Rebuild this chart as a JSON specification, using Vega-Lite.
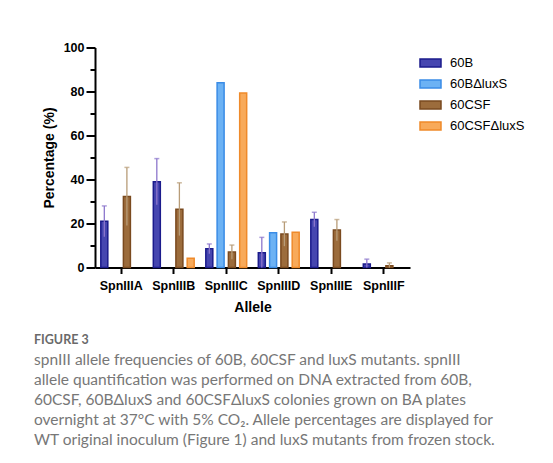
{
  "$schema": "https://vega.github.io/schema/vega-lite/v6.json",
  "width": 315,
  "height": 220,
  "autosize": {"type": "none"},
  "padding": {"left": 95, "top": 47.5, "right": 143, "bottom": 195.5},
  "background": "white",
  "config": {"view": {"stroke": null}},
  "data": {
    "values": [
      {"allele": "SpnIIIA", "group": "60B", "value": 21.0, "err_low": 14.0, "err_high": 28.0},
      {"allele": "SpnIIIA", "group": "60CSF", "value": 32.3, "err_low": 19.1, "err_high": 45.5},
      {"allele": "SpnIIIB", "group": "60B", "value": 39.0, "err_low": 28.5, "err_high": 49.5},
      {"allele": "SpnIIIB", "group": "60CSF", "value": 26.5, "err_low": 14.5, "err_high": 38.5},
      {"allele": "SpnIIIB", "group": "60CSFΔluxS", "value": 4.2},
      {"allele": "SpnIIIC", "group": "60B", "value": 8.5, "err_low": 6.3, "err_high": 10.7},
      {"allele": "SpnIIIC", "group": "60BΔluxS", "value": 84.0},
      {"allele": "SpnIIIC", "group": "60CSF", "value": 7.0, "err_low": 3.8, "err_high": 10.2},
      {"allele": "SpnIIIC", "group": "60CSFΔluxS", "value": 79.3},
      {"allele": "SpnIIID", "group": "60B", "value": 6.7, "err_low": 0.0, "err_high": 13.7},
      {"allele": "SpnIIID", "group": "60BΔluxS", "value": 15.8},
      {"allele": "SpnIIID", "group": "60CSF", "value": 15.2, "err_low": 9.7, "err_high": 20.7},
      {"allele": "SpnIIID", "group": "60CSFΔluxS", "value": 16.0},
      {"allele": "SpnIIIE", "group": "60B", "value": 21.8, "err_low": 18.5, "err_high": 25.1},
      {"allele": "SpnIIIE", "group": "60CSF", "value": 17.0, "err_low": 12.2, "err_high": 21.8},
      {"allele": "SpnIIIF", "group": "60B", "value": 1.6, "err_low": 0.0, "err_high": 3.8},
      {"allele": "SpnIIIF", "group": "60CSF", "value": 0.8, "err_low": 0.0, "err_high": 2.1}
    ]
  },
  "title": {
    "text": "FIGURE 3",
    "subtitle": [
      "spnIII allele frequencies of 60B, 60CSF and luxS mutants. spnIII",
      "allele quantification was performed on DNA extracted from 60B,",
      "60CSF, 60BΔluxS and 60CSFΔluxS colonies grown on BA plates",
      "overnight at 37°C with 5% CO₂. Allele percentages are displayed for",
      "WT original inoculum (Figure 1) and luxS mutants from frozen stock."
    ],
    "orient": "bottom",
    "anchor": "start",
    "frame": "group",
    "dx": -61,
    "offset": 20,
    "font": "Lato",
    "fontSize": 12.5,
    "fontWeight": "bold",
    "color": "#6a6a6a",
    "subtitleFont": "Lato",
    "subtitleFontSize": 15.5,
    "subtitleColor": "#777777",
    "subtitleLineHeight": 20,
    "subtitlePadding": 6
  },
  "encoding": {
    "x": {
      "field": "allele",
      "type": "nominal",
      "sort": ["SpnIIIA", "SpnIIIB", "SpnIIIC", "SpnIIID", "SpnIIIE", "SpnIIIF"],
      "scale": {"paddingInner": 0, "paddingOuter": 0},
      "axis": {
        "title": "Allele",
        "labelAngle": 0,
        "domainColor": "black",
        "domainWidth": 2,
        "tickColor": "black",
        "tickWidth": 2,
        "tickSize": 6,
        "labelPadding": 6,
        "labelFont": "Liberation Sans",
        "labelFontWeight": "bold",
        "labelFontSize": 12.5,
        "labelColor": "black",
        "titleFont": "Liberation Sans",
        "titleFontWeight": "bold",
        "titleFontSize": 14,
        "titleColor": "black",
        "titlePadding": 8
      }
    },
    "xOffset": {
      "field": "group",
      "type": "nominal",
      "scale": {
        "domain": ["60B", "60BΔluxS", "60CSF", "60CSFΔluxS"],
        "paddingInner": 0.38,
        "paddingOuter": 0.515
      }
    }
  },
  "layer": [
    {
      "mark": {"type": "bar", "strokeWidth": 1.5},
      "encoding": {
        "y": {
          "field": "value",
          "type": "quantitative",
          "scale": {"domain": [0, 100], "nice": false},
          "axis": {
            "title": "Percentage (%)",
            "orient": "left",
            "values": [0, 20, 40, 60, 80, 100],
            "grid": false,
            "domainColor": "black",
            "domainWidth": 2,
            "tickColor": "black",
            "tickWidth": 2,
            "tickSize": 9,
            "labelPadding": 2,
            "labelFont": "Liberation Sans",
            "labelFontWeight": "bold",
            "labelFontSize": 12.5,
            "labelColor": "black",
            "titleFont": "Liberation Sans",
            "titleFontWeight": "bold",
            "titleFontSize": 14,
            "titleColor": "black",
            "titlePadding": 7
          }
        },
        "fill": {
          "field": "group",
          "type": "nominal",
          "scale": {
            "domain": ["60B", "60BΔluxS", "60CSF", "60CSFΔluxS"],
            "range": ["#4646b0", "#6cb2f4", "#9c6c3c", "#f8aa5a"]
          },
          "legend": {
            "title": null,
            "orient": "none",
            "legendX": 324,
            "legendY": 4,
            "symbolType": "M-1,-0.38H1V0.38H-1Z",
            "symbolSize": 441,
            "symbolStrokeWidth": 1.5,
            "labelFont": "Liberation Sans",
            "labelFontSize": 13,
            "labelColor": "black",
            "labelOffset": 8,
            "rowPadding": 2
          }
        },
        "stroke": {
          "field": "group",
          "type": "nominal",
          "scale": {
            "domain": ["60B", "60BΔluxS", "60CSF", "60CSFΔluxS"],
            "range": ["#1b1b8c", "#3a8ce6", "#7a4a1f", "#ef8a2a"]
          },
          "legend": {
            "title": null,
            "orient": "none",
            "legendX": 324,
            "legendY": 4,
            "symbolType": "M-1,-0.38H1V0.38H-1Z",
            "symbolSize": 441,
            "symbolStrokeWidth": 1.5,
            "labelFont": "Liberation Sans",
            "labelFontSize": 13,
            "labelColor": "black",
            "labelOffset": 8,
            "rowPadding": 2
          }
        }
      }
    },
    {
      "transform": [{"filter": "isValid(datum.err_high)"}],
      "mark": {"type": "rule", "strokeWidth": 1.3},
      "encoding": {
        "y": {
          "field": "err_low",
          "type": "quantitative",
          "axis": {
            "orient": "left",
            "values": [10, 30, 50, 70, 90],
            "labels": false,
            "domain": false,
            "grid": false,
            "title": null,
            "tickColor": "black",
            "tickWidth": 2,
            "tickSize": 5
          }
        },
        "y2": {"field": "err_high"},
        "color": {
          "field": "group",
          "type": "nominal",
          "scale": {
            "domain": ["60B", "60BΔluxS", "60CSF", "60CSFΔluxS"],
            "range": ["#8c76cc", "#8cc4f6", "#b89c78", "#f8be86"]
          },
          "legend": null
        }
      }
    },
    {
      "transform": [{"filter": "isValid(datum.err_high)"}],
      "mark": {"type": "tick", "size": 5, "thickness": 1.5},
      "encoding": {
        "y": {"field": "err_high", "type": "quantitative", "axis": null},
        "color": {"field": "group", "type": "nominal", "legend": null}
      }
    }
  ],
  "resolve": {"axis": {"y": "independent"}}
}
